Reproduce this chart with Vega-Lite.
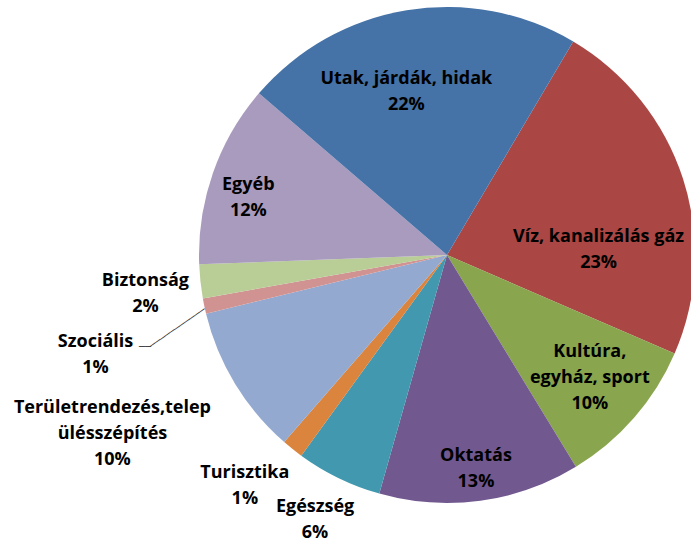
{
  "$schema": "https://vega.github.io/schema/vega-lite/v6.json",
  "width": 488,
  "height": 496,
  "autosize": "none",
  "padding": {"left": 203, "top": 7, "right": 0, "bottom": 39},
  "background": "white",
  "config": {"view": {"stroke": null}},
  "data": {
    "values": [
      {"order": 1, "cat": "Víz, kanalizálás gáz", "value": 23.0, "label": "Víz, kanalizálás gáz\n23%"},
      {"order": 2, "cat": "Kultúra, egyház, sport", "value": 9.8, "label": "Kultúra,\negyház, sport\n10%"},
      {"order": 3, "cat": "Oktatás", "value": 13.1, "label": "Oktatás\n13%"},
      {"order": 4, "cat": "Egészség", "value": 5.6, "label": "Egészség\n6%"},
      {"order": 5, "cat": "Turisztika", "value": 1.4, "label": "Turisztika\n1%"},
      {"order": 6, "cat": "Területrendezés,településszépítés", "value": 9.8, "label": "Területrendezés,telep\nülésszépítés\n10%"},
      {"order": 7, "cat": "Szociális", "value": 1.0, "label": "Szociális\n1%"},
      {"order": 8, "cat": "Biztonság", "value": 2.2, "label": "Biztonság\n2%"},
      {"order": 9, "cat": "Egyéb", "value": 11.9, "label": "Egyéb\n12%"},
      {"order": 10, "cat": "Utak, járdák, hidak", "value": 22.2, "label": "Utak, járdák, hidak\n22%"}
    ]
  },
  "encoding": {
    "theta": {"field": "value", "type": "quantitative", "stack": true, "scale": {"range": [0.534, 6.8172]}},
    "order": {"field": "order", "type": "quantitative"}
  },
  "layer": [
    {
      "mark": {"type": "arc", "outerRadius": 248, "stroke": null},
      "encoding": {
        "color": {
          "field": "cat", "type": "nominal", "legend": null,
          "scale": {
            "domain": ["Víz, kanalizálás gáz", "Kultúra, egyház, sport", "Oktatás", "Egészség", "Turisztika", "Területrendezés,településszépítés", "Szociális", "Biztonság", "Egyéb", "Utak, járdák, hidak"],
            "range": ["#AA4643", "#89A54E", "#71588F", "#4198AF", "#DB843D", "#93A9CF", "#D19392", "#B9CD96", "#A99BBD", "#4572A7"]
          }
        }
      }
    },
    {
      "mark": {"type": "text", "radius": 170, "dx": -13, "dy": -8.5, "font": "Open Sans", "fontWeight": "bold", "fontSize": 18, "lineHeight": 26, "lineBreak": "\n", "align": "center", "baseline": "middle", "color": "#000"},
      "encoding": {"text": {"condition": {"test": "datum.order === 10", "field": "label"}, "value": ""}}
    },
    {
      "mark": {"type": "text", "radius": 152, "dx": 7, "dy": 28.5, "font": "Open Sans", "fontWeight": "bold", "fontSize": 18, "lineHeight": 26, "lineBreak": "\n", "align": "center", "baseline": "middle", "color": "#000"},
      "encoding": {"text": {"condition": {"test": "datum.order === 1", "field": "label"}, "value": ""}}
    },
    {
      "mark": {"type": "text", "radius": 188, "dx": 1, "dy": -26.5, "font": "Open Sans", "fontWeight": "bold", "fontSize": 18, "lineHeight": 26, "lineBreak": "\n", "align": "center", "baseline": "middle", "color": "#000"},
      "encoding": {"text": {"condition": {"test": "datum.order === 2", "field": "label"}, "value": ""}}
    },
    {
      "mark": {"type": "text", "radius": 215, "dx": 0, "dy": -12, "font": "Open Sans", "fontWeight": "bold", "fontSize": 18, "lineHeight": 26, "lineBreak": "\n", "align": "center", "baseline": "middle", "color": "#000"},
      "encoding": {"text": {"condition": {"test": "datum.order === 3", "field": "label"}, "value": ""}}
    },
    {
      "mark": {"type": "text", "radius": 295, "dx": -3, "dy": -13.5, "font": "Open Sans", "fontWeight": "bold", "fontSize": 18, "lineHeight": 26, "lineBreak": "\n", "align": "center", "baseline": "middle", "color": "#000"},
      "encoding": {"text": {"condition": {"test": "datum.order === 4", "field": "label"}, "value": ""}}
    },
    {
      "mark": {"type": "text", "radius": 306, "dx": -11.6, "dy": -21.5, "font": "Open Sans", "fontWeight": "bold", "fontSize": 18, "lineHeight": 26, "lineBreak": "\n", "align": "center", "baseline": "middle", "color": "#000"},
      "encoding": {"text": {"condition": {"test": "datum.order === 5", "field": "label"}, "value": ""}}
    },
    {
      "mark": {"type": "text", "radius": 379, "dx": -10.8, "dy": -44, "font": "Open Sans", "fontWeight": "bold", "fontSize": 18, "lineHeight": 26, "lineBreak": "\n", "align": "center", "baseline": "middle", "color": "#000"},
      "encoding": {"text": {"condition": {"test": "datum.order === 6", "field": "label"}, "value": ""}}
    },
    {
      "mark": {"type": "text", "radius": 365, "dx": 5.7, "dy": 11.4, "font": "Open Sans", "fontWeight": "bold", "fontSize": 18, "lineHeight": 26, "lineBreak": "\n", "align": "center", "baseline": "middle", "color": "#000"},
      "encoding": {"text": {"condition": {"test": "datum.order === 7", "field": "label"}, "value": ""}}
    },
    {
      "mark": {"type": "text", "radius": 304, "dx": 0.7, "dy": -6.4, "font": "Open Sans", "fontWeight": "bold", "fontSize": 18, "lineHeight": 26, "lineBreak": "\n", "align": "center", "baseline": "middle", "color": "#000"},
      "encoding": {"text": {"condition": {"test": "datum.order === 8", "field": "label"}, "value": ""}}
    },
    {
      "mark": {"type": "text", "radius": 207, "dx": -3.3, "dy": -1.6, "font": "Open Sans", "fontWeight": "bold", "fontSize": 18, "lineHeight": 26, "lineBreak": "\n", "align": "center", "baseline": "middle", "color": "#000"},
      "encoding": {"text": {"condition": {"test": "datum.order === 9", "field": "label"}, "value": ""}}
    },
    {
      "mark": {"type": "text", "radius": 280, "angle": 325.4, "dx": -5, "dy": 15.2, "font": "DejaVu Sans", "fontSize": 10, "align": "center", "baseline": "middle", "color": "#333"},
      "encoding": {"text": {"condition": {"test": "datum.order === 7", "value": "───────────"}, "value": ""}}
    },
    {
      "mark": {"type": "text", "radius": 280, "dx": -28, "dy": 34.4, "font": "DejaVu Sans", "fontSize": 10, "align": "center", "baseline": "middle", "color": "#333"},
      "encoding": {"text": {"condition": {"test": "datum.order === 7", "value": "──"}, "value": ""}}
    }
  ]
}
